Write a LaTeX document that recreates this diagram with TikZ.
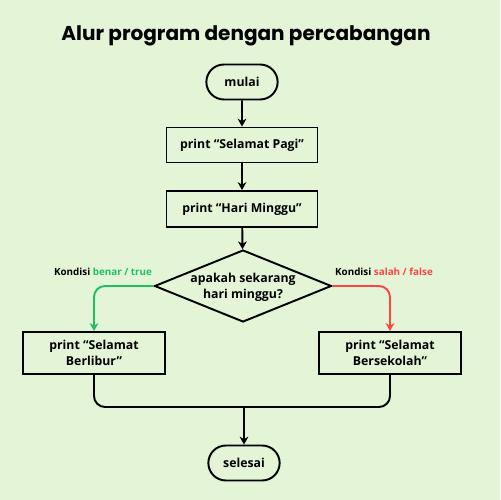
\documentclass[tikz,border=0pt]{standalone}
\usepackage{fontspec}
\setmainfont{Open Sans}
\newfontfamily\titlefont{Poppins}
\usetikzlibrary{shapes.geometric,shapes.misc,arrows.meta}
\definecolor{bg}{HTML}{E3F4D7}
\definecolor{okgreen}{HTML}{1EC05F}
\definecolor{nored}{HTML}{FF4444}
\tikzset{
  px/.style={x=0.02cm,y=-0.02cm},
  ln/.style={line width=1.1pt},
  arr/.style={ln,-{Stealth[length=4.5pt,width=5pt]}},
  term/.style={draw,ln,rounded rectangle,minimum width=1.66cm,minimum height=0.7cm,font=\bfseries\fontsize{7}{9}\selectfont},
  proc/.style={draw,ln,rectangle,align=center,font=\bfseries\fontsize{7}{9.2}\selectfont},
  dec/.style={draw,ln,diamond,minimum width=3.54cm,minimum height=1.44cm,inner sep=0pt},
  dectxt/.style={align=center,font=\bfseries\fontsize{7}{9.2}\selectfont},
  lbl/.style={font=\bfseries\fontsize{5.6}{7}\selectfont},
}
\begin{document}
\begin{tikzpicture}[px]
\fill[bg] (0,0) rectangle (500,500);
\useasboundingbox (0,0) rectangle (500,500);
\node[font=\titlefont\bfseries\fontsize{11.4}{14}\selectfont] (title) at (246,36) {Alur program dengan percabangan};
\node[term] (mulai) at (242,82) {mulai};
\node[proc,minimum width=3.02cm,minimum height=0.7cm] (pagi) at (242,145) {print “Selamat Pagi”};
\node[proc,minimum width=3.02cm,minimum height=0.72cm] (minggu) at (242,209) {print “Hari Minggu”};
\node[dec] (dec) at (243,286) {};
\node[dectxt] (dectext) at (243,287) {apakah sekarang\\hari minggu?};
\node[proc,minimum width=2.84cm,minimum height=0.84cm] (libur) at (94,353) {print “Selamat\\Berlibur”};
\node[proc,minimum width=2.84cm,minimum height=0.84cm] (sekolah) at (390,353) {print “Selamat\\Bersekolah”};
\node[term] (selesai) at (244,463) {selesai};
\node[lbl] (ltrue) at (103,272) {Kondisi \textcolor{okgreen}{benar / true}};
\node[lbl] (lfalse) at (384,272) {Kondisi \textcolor{nored}{salah / false}};
\coordinate (j) at (244,407);
\draw[arr] (mulai) -- (pagi);
\draw[arr] (pagi) -- (minggu);
\draw[arr] (minggu) -- (dec);
\draw[arr,okgreen,rounded corners=0.22cm] (dec.west) -| (libur.north);
\draw[arr,nored,rounded corners=0.22cm] (dec.east) -| (sekolah.north);
\draw[ln,rounded corners=0.22cm] (libur.south) |- (j) -| (sekolah.south);
\draw[arr] (j) -- (selesai.north);
\end{tikzpicture}
\end{document}
